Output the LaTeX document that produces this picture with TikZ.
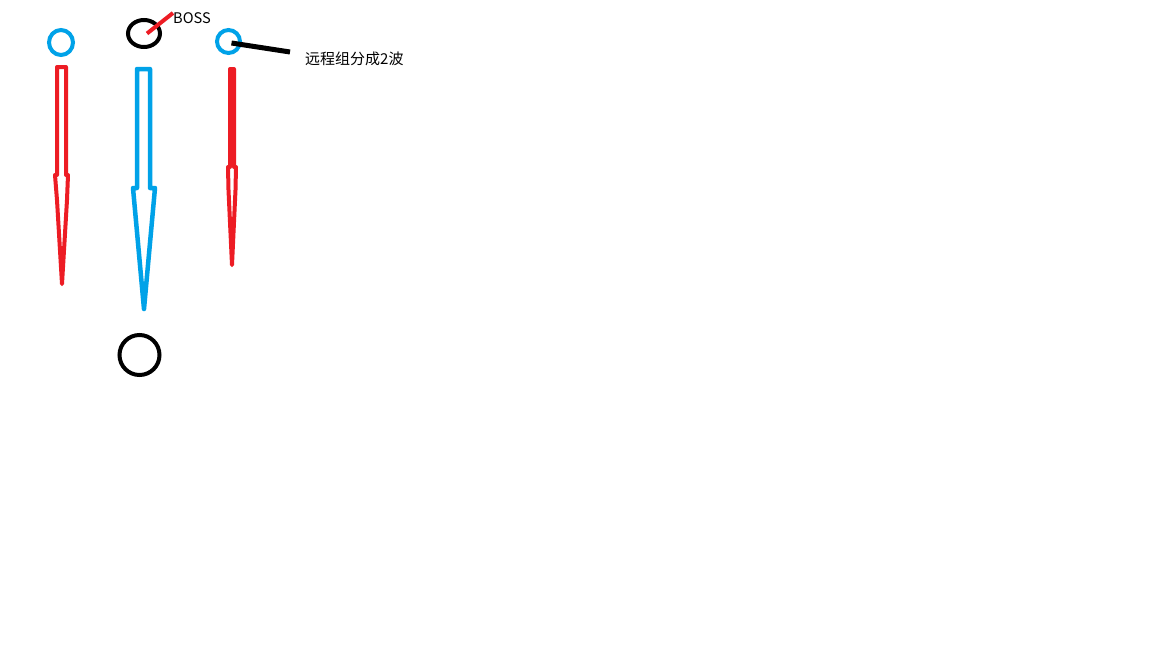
\documentclass[tikz,border=0pt]{standalone}
\usepackage{fontspec}
\setmainfont{Noto Sans CJK SC}
\usetikzlibrary{shapes.geometric}
\definecolor{paintred}{HTML}{ED1C24}
\definecolor{paintblue}{HTML}{00A2E8}
\begin{document}
\begin{tikzpicture}[x=1pt,y=-1pt,
  ring/.style={draw,ellipse,inner sep=0pt,line width=4pt},
  arrowline/.style={line width=4pt,line join=round},
  label/.style={inner sep=0pt,anchor=base west}]
\useasboundingbox[fill=white] (0,0) rectangle (1152,648);
% units on top
\node[ring,paintblue,minimum width=24pt,minimum height=25pt] (left) at (61,42.5) {};
\node[ring,black,minimum width=32pt,minimum height=27pt] (boss) at (144,33.5) {};
\node[ring,paintblue,minimum width=23pt,minimum height=23pt] (right) at (228.5,41.5) {};
% target below
\node[ring,black,minimum width=40pt,minimum height=40pt] (target) at (139.5,355) {};
% labels
\node[label,font=\fontsize{14.6}{17}\selectfont] (bosstext) at (173,23) {BOSS};
\node[label,font=\fontsize{15}{17}\selectfont] (wavetext) at (305,64) {远程组分成2波};
\coordinate (bossend) at (173,13);
\coordinate (waveend) at (290,52);
\draw[paintred,line width=4pt] ([xshift=3pt]boss.center) -- (bossend);
\draw[black,line width=5pt] ([xshift=3pt,yshift=-1.5pt]right.center) -- (waveend);
% arrows
\draw[arrowline,paintred] (57,67) -- (66,67) -- (66,175) -- (68,175) -- (67,200) -- (62,284) -- (57,200) -- (55,175) -- (57,175) -- cycle;
\draw[arrowline,paintblue,line width=4.5pt] (137,69) -- (150,69) -- (150,188) -- (155,188) -- (144,309) -- (133,188) -- (137,188) -- cycle;
\draw[arrowline,paintred] (230,69) -- (234,69) -- (234,167) -- (236,167) -- (235.5,190) -- (232,265) -- (228.5,190) -- (228,167) -- (230,167) -- cycle;
\end{tikzpicture}
\end{document}
